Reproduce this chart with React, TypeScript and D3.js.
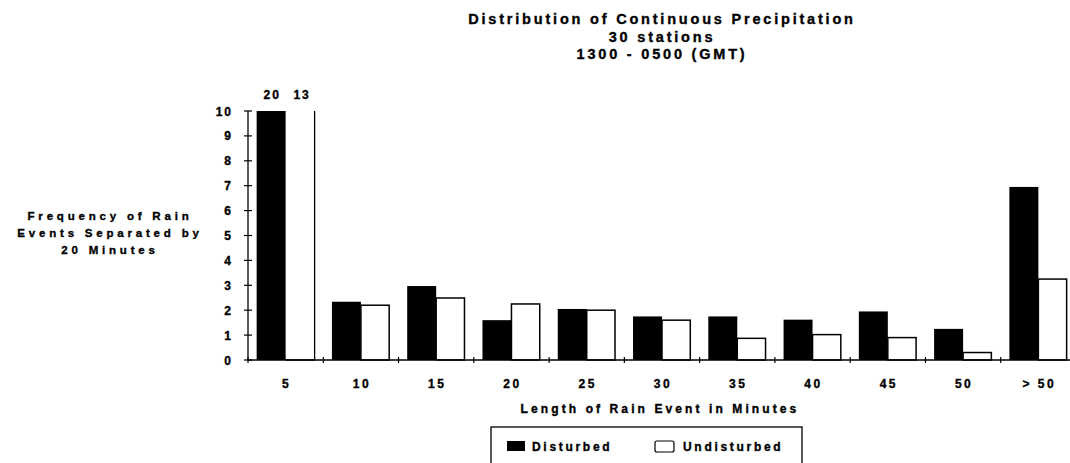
import React from "react";
import * as d3 from "d3";

const categories = ["5", "10", "15", "20", "25", "30", "35", "40", "45", "50", ">50"];
const disturbed = [20, 2.34, 2.97, 1.6, 2.05, 1.75, 1.75, 1.62, 1.95, 1.25, 6.95];
const undisturbed = [13, 2.2, 2.49, 2.25, 2.0, 1.6, 0.87, 1.02, 0.9, 0.3, 3.25];
const yTicks = [0, 1, 2, 3, 4, 5, 6, 7, 8, 9, 10];
const titleLines = ["Distribution of Continuous Precipitation", "30 stations", "1300 - 0500 (GMT)"];
const yTitleLines = ["Frequency of Rain", "Events Separated by", "20 Minutes"];
const seriesNames = ["Disturbed", "Undisturbed"];

const W = 1070;
const H = 463;
const FONT = "'Liberation Sans', Arial, sans-serif";

// bold scan-like text
const txt = {
  fontFamily: FONT,
  fontWeight: "bold" as const,
  fill: "#000",
  stroke: "#000",
  strokeWidth: 0.35,
};

const App = () => {
  const x = d3
    .scaleBand<string>()
    .domain(categories)
    .range([248, 1076])
    .paddingInner(0.23)
    .paddingOuter(0.115);
  const xs = d3.scaleBand<string>().domain(["d", "u"]).range([0, x.bandwidth()]);
  const y = d3.scaleLinear().domain([0, 10]).range([360, 111]).clamp(true);
  const y0 = y(0);
  const step = x.step();
  const bounds = d3.range(categories.length + 1).map((i) => 248 + i * step);

  return (
    <svg width={W} height={H} style={{ display: "block", position: "absolute", left: 0, top: 0, background: "#fff" }}>
      {titleLines.map((t, i) => (
        <text key={t} {...txt} x={662} y={24 + i * 17.5} textAnchor="middle" fontSize={14.5} letterSpacing={2.8}>
          {t}
        </text>
      ))}
      {yTitleLines.map((t, i) => (
        <text key={t} {...txt} x={110} y={220 + i * 17} textAnchor="middle" fontSize={11.5} letterSpacing={3.8}>
          {t}
        </text>
      ))}
      <text {...txt} x={660} y={413} textAnchor="middle" fontSize={12} letterSpacing={3.1}>
        Length of Rain Event in Minutes
      </text>

      {/* bars */}
      {categories.map((c, i) => {
        const bx = x(c) as number;
        const dv = disturbed[i];
        const uv = undisturbed[i];
        const ux = bx + (xs("u") as number);
        const uw = xs.bandwidth();
        const uTop = y(uv);
        return (
          <g key={c}>
            <rect x={bx + (xs("d") as number)} y={y(dv)} width={xs.bandwidth()} height={y0 - y(dv)} fill="#000" />
            {uv > 10 ? (
              <path d={`M${ux},${y0}H${ux + uw}V${uTop}`} fill="none" stroke="#000" strokeWidth={1.3} />
            ) : (
              <rect x={ux} y={uTop} width={uw - 0.7} height={y0 - uTop} fill="#fff" stroke="#000" strokeWidth={1.5} />
            )}
            {dv > 10 && (
              <text {...txt} x={bx + (xs("d") as number) + xs.bandwidth() / 2 + 1} y={99} textAnchor="middle" fontSize={12} letterSpacing={2}>
                {dv}
              </text>
            )}
            {uv > 10 && (
              <text {...txt} x={ux + uw / 2 + 2} y={99} textAnchor="middle" fontSize={12} letterSpacing={2}>
                {uv}
              </text>
            )}
            <text {...txt} x={bx + x.bandwidth() / 2 + 1} y={388} textAnchor="middle" fontSize={12} letterSpacing={2.5}>
              {c === ">50" ? "> 50" : c}
            </text>
          </g>
        );
      })}

      {/* axes */}
      <line x1={248} x2={1070} y1={y0} y2={y0} stroke="#000" strokeWidth={1.3} />
      {bounds.map((b, i) => (
        <line key={i} x1={b} x2={b} y1={y0 - 3} y2={y0 + 3} stroke="#000" strokeWidth={1.2} />
      ))}
      <line x1={248} x2={248} y1={y(10)} y2={y0} stroke="#000" strokeWidth={1.3} />
      {yTicks.map((t) => (
        <g key={t}>
          <line x1={244} x2={252} y1={y(t)} y2={y(t)} stroke="#000" strokeWidth={1.2} />
          <text {...txt} x={233} y={y(t) + 4.5} textAnchor="end" fontSize={12} letterSpacing={2}>
            {t}
          </text>
        </g>
      ))}

      {/* legend */}
      <rect x={491} y={427} width={311} height={42} fill="#fff" stroke="#000" strokeWidth={1.3} />
      <rect x={507} y={441} width={18} height={10} fill="#000" />
      <text {...txt} x={532} y={451} fontSize={12} letterSpacing={2.7}>
        {seriesNames[0]}
      </text>
      <rect x={655} y={441} width={19} height={11} rx={2} fill="#fff" stroke="#000" strokeWidth={1.2} />
      <text {...txt} x={683} y={451} fontSize={12} letterSpacing={2.7}>
        {seriesNames[1]}
      </text>
    </svg>
  );
};

export default App;
